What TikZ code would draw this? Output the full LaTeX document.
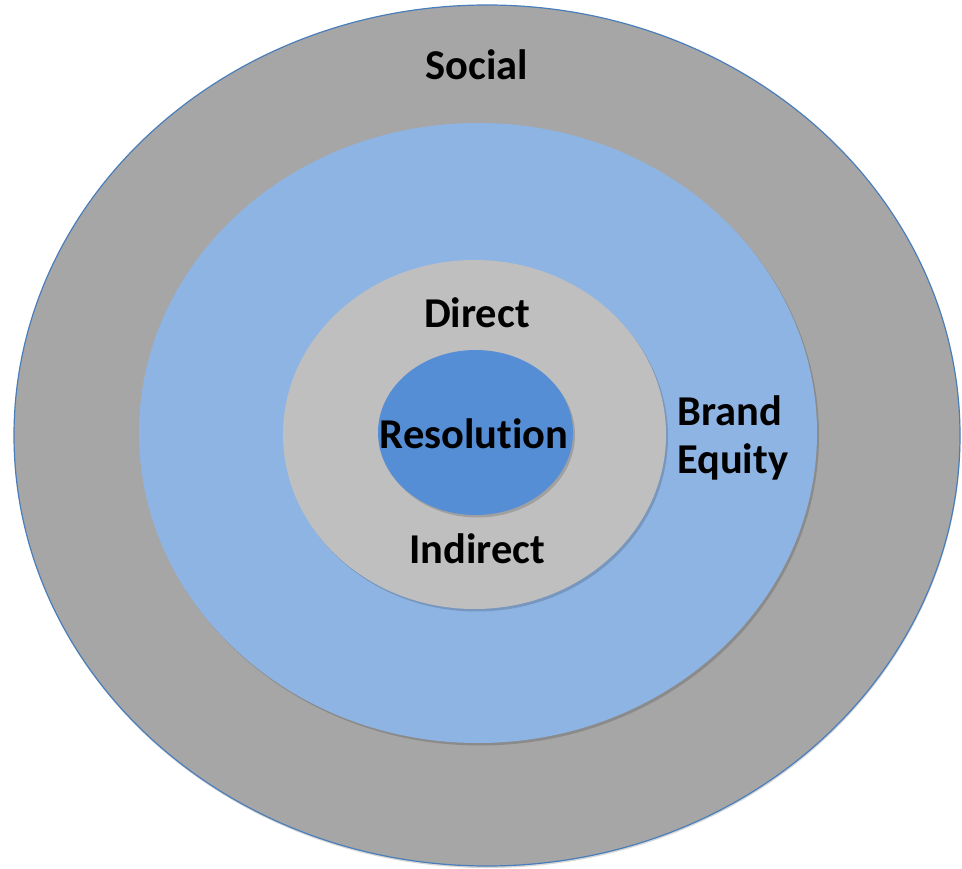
\documentclass[tikz,border=0pt]{standalone}
\usepackage{fontspec}
\setmainfont{Carlito}[Ligatures={NoCommon,NoContextual,NoRare}]
\definecolor{outergray}{HTML}{A6A6A6}
\definecolor{outline}{HTML}{4A7EBB}
\definecolor{lightblue}{HTML}{8EB4E3}
\definecolor{lightgray}{HTML}{BFBFBF}
\definecolor{innerblue}{HTML}{558ED5}
\newcommand\nolg{\kern0pt{}}
\begin{document}
\begin{tikzpicture}[x=1pt,y=-1pt,
  shade/.style={fill=black,opacity=0.16,draw=none},
  lbl/.style={font=\fontsize{42.5}{48}\selectfont\bfseries,text=black,inner sep=0pt,anchor=base}]
\useasboundingbox (0,0) rectangle (962,869);
% outer
\fill[shade] (487.5,437.5) ellipse [x radius=473, y radius=430.5];
\filldraw[fill=outergray,draw=outline,line width=1.2pt] (487,435.5) ellipse [x radius=473, y radius=430.5];
% second
\fill[shade] (480,435.5) ellipse [x radius=339, y radius=310];
\fill[lightblue] (478,433) ellipse [x radius=339, y radius=310];
% third
\fill[shade] (476.5,437) ellipse [x radius=191.5, y radius=174.5];
\fill[lightgray] (474.5,434.5) ellipse [x radius=191.5, y radius=174.5];
% inner
\fill[shade] (477.5,435) ellipse [x radius=97.5, y radius=82.5];
\fill[innerblue] (475.5,432.5) ellipse [x radius=97.5, y radius=82.5];
% labels
\node[lbl] (social) at (477,80) {Social};
\node[lbl] (direct) at (477,327) {Direct};
\node[lbl] (resolution) at (474,448) {Resolut\nolg ion};
\node[lbl] (indirect) at (477,563) {Indirect};
\node[lbl,anchor=base west] (brand) at (677,425) {Brand};
\node[lbl,anchor=base west] (equity) at (677,473) {Equit\nolg y};
\end{tikzpicture}
\end{document}
